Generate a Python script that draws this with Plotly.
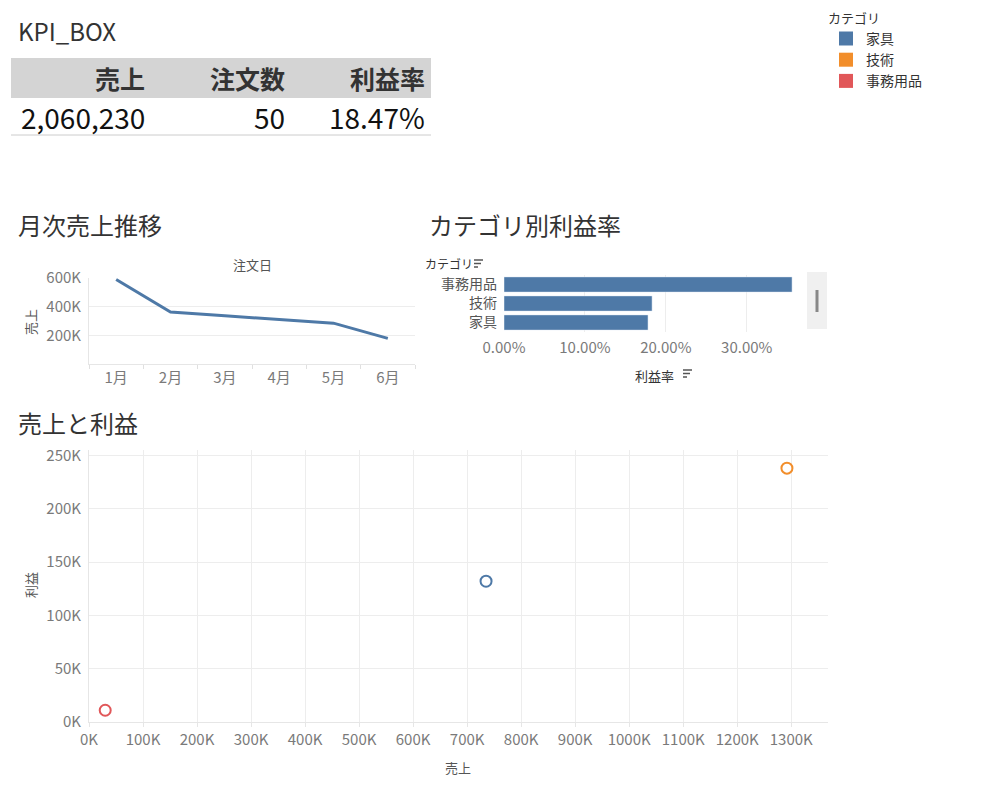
import plotly.graph_objects as go

W, H = 997, 791
def px(x): return x / W
def py(y): return 1 - y / H

# ---------------- data ----------------
kpi_labels = ["売上", "注文数", "利益率"]
kpi_values = ["2,060,230", "50", "18.47%"]

months = ["1月", "2月", "3月", "4月", "5月", "6月"]
monthly_sales = [590000, 362000, 336000, 308000, 285000, 179000]

bar_categories = ["家具", "技術", "事務用品"]
profit_rates = [0.178, 0.183, 0.356]

categories = ["家具", "技術", "事務用品"]
cat_sales = [735000, 1292000, 30000]
cat_profit = [132000, 238000, 11000]
cat_colors = ["#4e79a7", "#f28e2b", "#e15759"]

line_yticks = [200000, 400000, 600000]
scatter_xticks = [i * 100000 for i in range(14)]
scatter_yticks = [i * 50000 for i in range(6)]
bar_xticks = [0, 0.1, 0.2, 0.3]

FONT = "Noto Sans CJK JP, Lato, sans-serif"
TICK = "#7a7a7a"
GRID = "#ededed"
TXT = "#333333"

fig = go.Figure()

# Line chart
fig.add_trace(go.Scatter(x=months, y=monthly_sales, mode="lines",
                         line=dict(color="#4e79a7", width=3), showlegend=False,
                         xaxis="x", yaxis="y"))

# Bar chart
fig.add_trace(go.Bar(x=profit_rates, y=bar_categories, orientation="h",
                     marker=dict(color="#4e79a7"), showlegend=False,
                     xaxis="x2", yaxis="y2"))

# Scatter
for c, s, p, col in zip(categories, cat_sales, cat_profit, cat_colors):
    fig.add_trace(go.Scatter(x=[s], y=[p], mode="markers",
                             marker=dict(symbol="circle-open", size=11, color=col,
                                         line=dict(width=2, color=col)),
                             showlegend=False, xaxis="x3", yaxis="y3", name=c))
# legend entries
for c, col in zip(categories, cat_colors):
    fig.add_trace(go.Scatter(x=[None], y=[None], mode="markers", name=c,
                             marker=dict(symbol="square", size=14, color=col),
                             showlegend=True, xaxis="x3", yaxis="y3"))

tickfont = dict(size=15, color=TICK, family=FONT)

fig.update_layout(
    width=W, height=H, autosize=False,
    margin=dict(l=0, r=0, t=0, b=0, autoexpand=False),
    paper_bgcolor="white", plot_bgcolor="white",
    font=dict(family=FONT, color=TXT),
    xaxis=dict(domain=[px(89), px(415)], anchor="y", type="category", automargin=False,
               range=[-0.5, 5.5], showgrid=False, showline=True, linecolor="#e6e6e6",
               ticks="outside", tickson="boundaries", ticklen=4, tickcolor="#e0e0e0",
               tickfont=tickfont, fixedrange=True),
    yaxis=dict(domain=[py(364), py(278)], anchor="x", range=[0, 600000], automargin=False,
               tickvals=line_yticks, ticktext=[f"{v//1000}K" for v in line_yticks],
               showgrid=True, gridcolor=GRID, showline=True, linecolor="#e6e6e6",
               zeroline=False, tickfont=tickfont, ticks="", ticklabelstandoff=4,
               fixedrange=True),
    xaxis2=dict(domain=[px(504), px(805)], anchor="y2", range=[0, 0.372], automargin=False,
                tickvals=bar_xticks, tickformat=".2%", showgrid=True, gridcolor=GRID,
                zeroline=False, tickfont=tickfont, ticklabelstandoff=5, fixedrange=True),
    yaxis2=dict(domain=[py(332), py(275)], anchor="x2", type="category", automargin=False,
                showgrid=False, tickfont=dict(size=14, color="#555555", family=FONT),
                ticks="", ticklabelstandoff=6, fixedrange=True),
    bargap=0.2,
    xaxis3=dict(domain=[px(89), px(828)], anchor="y3", range=[0, 1368000], automargin=False,
                tickvals=scatter_xticks, ticktext=[f"{v//1000}K" for v in scatter_xticks],
                showgrid=True, gridcolor=GRID, zeroline=False, showline=True,
                linecolor="#e6e6e6", ticks="outside", ticklen=4, tickcolor="#e6e6e6",
                tickfont=tickfont, fixedrange=True),
    yaxis3=dict(domain=[py(722), py(450)], anchor="x3", range=[0, 255000], automargin=False,
                tickvals=scatter_yticks, ticktext=[f"{v//1000}K" for v in scatter_yticks],
                showgrid=True, gridcolor=GRID, zeroline=False, showline=True,
                linecolor="#e6e6e6", tickfont=tickfont, ticklabelstandoff=4,
                fixedrange=True),
    legend=dict(x=px(826), y=py(6), xanchor="left", yanchor="top",
                title=dict(text="カテゴリ", font=dict(size=13, color=TXT, family=FONT)),
                font=dict(size=14, color=TXT, family=FONT), itemsizing="trace",
                bgcolor="rgba(0,0,0,0)", tracegroupgap=0),
)

anns = [
    ("KPI_BOX", 16, 31, 24, TXT, "left", 0),
    ("月次売上推移", 16, 225, 24, TXT, "left", 0),
    ("カテゴリ別利益率", 427, 225, 24, TXT, "left", 0),
    ("売上と利益", 16, 422, 24, TXT, "left", 0),
    ("注文日", 252, 265, 13, "#555555", "center", 0),
    ("売上", 30, 322, 13, "#555555", "center", -90),
    ("利益", 30, 585, 13, "#555555", "center", -90),
    ("売上", 458, 767, 13, "#555555", "center", 0),
    ("カテゴリ", 423, 263, 12, TXT, "left", 0),
    ("利益率", 654, 375, 13, TXT, "center", 0),
]
for text, x, y, size, color, anchor, angle in anns:
    fig.add_annotation(text=text, x=px(x), y=py(y), xref="paper", yref="paper",
                       xanchor=anchor, yanchor="middle", showarrow=False,
                       textangle=angle, font=dict(size=size, color=color, family=FONT))

# KPI box: header band, header labels and values
kpi_left, kpi_right = 11, 431
col_w = (kpi_right - kpi_left) / len(kpi_labels)
shapes = [dict(type="rect", xref="paper", yref="paper", x0=px(kpi_left), x1=px(kpi_right),
               y0=py(98), y1=py(58), fillcolor="#d4d4d4", line=dict(width=0), layer="below"),
          dict(type="line", xref="paper", yref="paper", x0=px(kpi_left), x1=px(kpi_right),
               y0=py(135), y1=py(135), line=dict(color="#cccccc", width=1))]
for i, (lab, val) in enumerate(zip(kpi_labels, kpi_values)):
    xr = kpi_left + col_w * (i + 1) - 4
    fig.add_annotation(text=f"<b>{lab}</b>", x=px(xr), y=py(78), xref="paper", yref="paper",
                       xanchor="right", yanchor="middle", showarrow=False,
                       font=dict(size=25, color=TXT, family=FONT))
    fig.add_annotation(text=val, x=px(xr), y=py(117), xref="paper", yref="paper",
                       xanchor="right", yanchor="middle", showarrow=False,
                       font=dict(size=28, color="#111111", family=FONT))

# scrollbar
shapes.append(dict(type="rect", xref="paper", yref="paper", x0=px(807), x1=px(827),
                   y0=py(329), y1=py(272), fillcolor="#f0f0f0", line=dict(width=0)))
shapes.append(dict(type="rect", xref="paper", yref="paper", x0=px(815.5), x1=px(818.5),
                   y0=py(312), y1=py(290), fillcolor="#888888", line=dict(width=0)))
# sort icons
for (ix, iy) in [(474, 260), (683, 370)]:
    for k, wdt in enumerate([9, 7, 4]):
        shapes.append(dict(type="line", xref="paper", yref="paper",
                           x0=px(ix), x1=px(ix + wdt), y0=py(iy + k * 3.5), y1=py(iy + k * 3.5),
                           line=dict(color="#555555", width=1.5)))
fig.update_layout(shapes=shapes)

fig.write_html("out.html")
